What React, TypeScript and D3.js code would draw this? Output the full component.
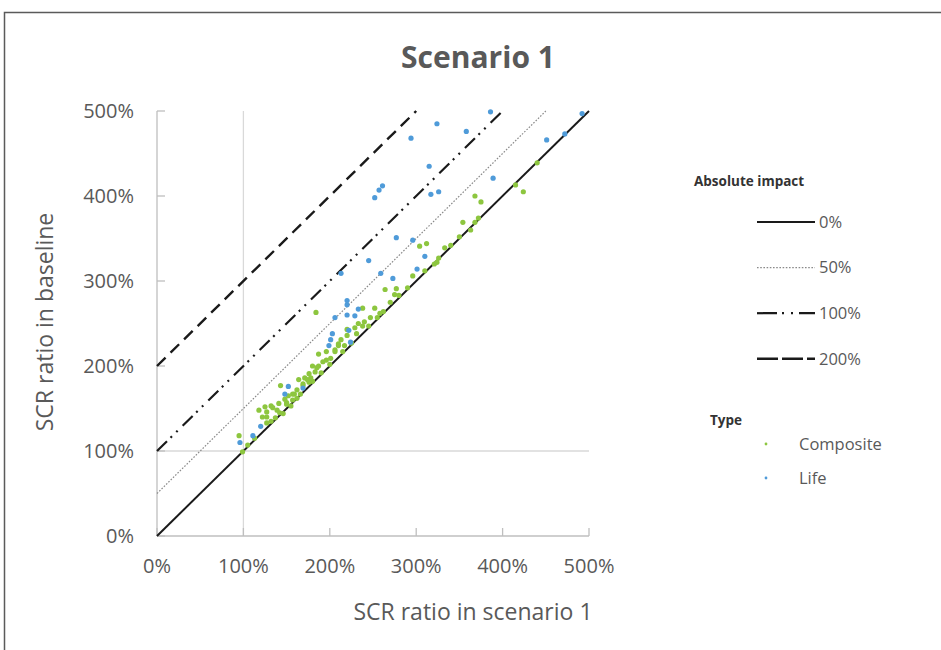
import React from "react";
import * as d3 from "d3";

// SCR ratio (%) in scenario 1 (x) vs baseline (y)
const compositeX = [95, 99, 118, 125, 132, 122, 127, 127, 132, 142, 150, 187, 196, 180, 187, 176, 183, 171, 178, 164, 143, 176, 169, 159, 166, 152, 157, 162, 150, 155, 127, 139, 146, 206, 210, 201, 196, 192, 185, 174, 169, 162, 157, 148, 141, 134, 184, 264, 277, 275, 270, 238, 252, 247, 240, 233, 229, 238, 220, 231, 220, 213, 210, 217, 206, 258, 304, 312, 333, 326, 324, 321, 440, 415, 424, 368, 375, 354, 372, 368, 363, 296, 105, 113, 137, 180, 190, 200, 215, 225, 245, 255, 262, 280, 290, 310, 340, 350];
const compositeY = [118, 99, 148, 152, 153, 140, 140, 133, 135, 145, 157, 214, 217, 200, 200, 191, 193, 186, 186, 184, 177, 181, 177, 167, 167, 165, 160, 162, 155, 153, 146, 148, 144, 219, 224, 209, 207, 205, 198, 184, 179, 172, 167, 161, 156, 151, 263, 290, 291, 284, 275, 268, 268, 257, 252, 250, 245, 247, 243, 238, 236, 231, 226, 224, 217, 262, 341, 344, 339, 327, 322, 320, 439, 413, 405, 400, 393, 369, 374, 369, 360, 306, 107, 115, 139, 182, 192, 202, 217, 227, 247, 257, 264, 283, 292, 312, 342, 352];

const lifeX = [96, 111, 120, 152, 148, 169, 199, 201, 203, 222, 224, 220, 220, 220, 229, 233, 206, 213, 245, 259, 273, 301, 277, 296, 310, 261, 257, 252, 317, 326, 315, 294, 324, 358, 386, 389, 451, 472, 492];
const lifeY = [110, 118, 129, 176, 167, 174, 224, 231, 238, 242, 228, 277, 272, 260, 259, 267, 257, 309, 324, 309, 303, 314, 351, 348, 329, 412, 407, 398, 402, 405, 435, 468, 485, 476, 499, 421, 466, 473, 497];

const tickValues = [0, 100, 200, 300, 400, 500];
const impactOffsets = [0, 50, 100, 200];
const impactLabels = ["0%", "50%", "100%", "200%"];
const typeLabels = ["Composite", "Life"];

const GREEN = "#8dc63f";
const BLUE = "#4f9bd9";
const FONT = "'Open Sans', sans-serif";

const lineStyles = [
  { stroke: "#1a1a1a", width: 2, dash: "none" },
  { stroke: "#8a8a8a", width: 1.2, dash: "1.6,1.6" },
  { stroke: "#1a1a1a", width: 2.2, dash: "14,5,2,6,2,7" },
  { stroke: "#1a1a1a", width: 2.4, dash: "12,7" },
];
const legendDash = ["none", "1.6,1.6", "20,5,2,7,2,6", "21,4"];

export default function App() {
  const x = d3.scaleLinear().domain([0, 500]).range([157, 589]);
  const y = d3.scaleLinear().domain([0, 500]).range([536, 111]);
  const line = d3
    .line<[number, number]>()
    .x((d) => x(d[0]))
    .y((d) => y(d[1]));

  const composite = compositeX.map((v, i) => [v, compositeY[i]]);
  const life = lifeX.map((v, i) => [v, lifeY[i]]);

  return (
    <div style={{ position: "absolute", left: 0, top: 0 }}>
      <svg width={941} height={650} style={{ display: "block", background: "#fff" }}>
        <rect x={0} y={0} width={941} height={650} fill="#fff" />
        {/* frame */}
        <path d="M4.5,650 L4.5,12.5 L941,12.5" fill="none" stroke="#5a5a5a" strokeWidth={1.5} />

        <text x={478} y={68} textAnchor="middle" fontFamily={FONT} fontWeight={700} fontSize={30} fill="#595959">
          Scenario 1
        </text>

        {/* reference lines at 100% */}
        <line x1={x(0)} x2={x(500)} y1={y(100)} y2={y(100)} stroke="#d9d9d9" strokeWidth={1.3} />
        <line x1={x(100)} x2={x(100)} y1={y(0)} y2={y(500)} stroke="#d9d9d9" strokeWidth={1.3} />

        {/* axes */}
        <line x1={x(0)} x2={x(0)} y1={y(0)} y2={y(500)} stroke="#bfbfbf" strokeWidth={1.3} />
        <line x1={x(0)} x2={x(500)} y1={y(0)} y2={y(0)} stroke="#bfbfbf" strokeWidth={1.3} />
        {tickValues.map((t) => (
          <g key={"t" + t}>
            <line x1={x(0)} x2={x(0) + 8} y1={y(t)} y2={y(t)} stroke="#bfbfbf" strokeWidth={1.3} />
            <line x1={x(t)} x2={x(t)} y1={y(0)} y2={y(0) - 8} stroke="#bfbfbf" strokeWidth={1.3} />
            <text x={134} y={y(t)} dy="0.35em" textAnchor="end" fontFamily={FONT} fontSize={20} fill="#595959">
              {t + "%"}
            </text>
            <text x={x(t)} y={573} textAnchor="middle" fontFamily={FONT} fontSize={20} fill="#595959">
              {t + "%"}
            </text>
          </g>
        ))}

        <text x={473} y={620} textAnchor="middle" fontFamily={FONT} fontSize={23} fill="#595959">
          SCR ratio in scenario 1
        </text>
        <text
          transform="translate(53,322) rotate(-90)"
          textAnchor="middle"
          fontFamily={FONT}
          fontSize={23}
          fill="#595959"
        >
          SCR ratio in baseline
        </text>

        {/* impact lines */}
        {impactOffsets.map((o, i) => (
          <path
            key={"l" + o}
            d={line([
              [0, o],
              [500 - o, 500],
            ]) as string}
            fill="none"
            stroke={lineStyles[i].stroke}
            strokeWidth={lineStyles[i].width}
            strokeDasharray={lineStyles[i].dash}
          />
        ))}

        {/* points */}
        {composite.map((d, i) => (
          <circle key={"c" + i} cx={x(d[0])} cy={y(d[1])} r={2.6} fill={GREEN} />
        ))}
        {life.map((d, i) => (
          <circle key={"b" + i} cx={x(d[0])} cy={y(d[1])} r={2.6} fill={BLUE} />
        ))}

        {/* legend */}
        <text x={694} y={186} fontFamily={FONT} fontWeight={700} fontSize={13.5} fill="#333">
          Absolute impact
        </text>
        {impactLabels.map((lab, i) => {
          const ly = 222 + i * 45.6;
          return (
            <g key={"lg" + i}>
              <line
                x1={757}
                x2={815}
                y1={ly}
                y2={ly}
                stroke={lineStyles[i].stroke}
                strokeWidth={lineStyles[i].width}
                strokeDasharray={legendDash[i]}
              />
              <text x={819} y={ly} dy="0.35em" fontFamily={FONT} fontSize={16.5} fill="#595959">
                {lab}
              </text>
            </g>
          );
        })}
        <text x={710} y={425} fontFamily={FONT} fontWeight={700} fontSize={13.5} fill="#333">
          Type
        </text>
        {typeLabels.map((lab, i) => {
          const ly = 444 + i * 34;
          return (
            <g key={"ty" + i}>
              <circle cx={766} cy={ly} r={1.4} fill={i === 0 ? GREEN : BLUE} />
              <text x={799} y={ly} dy="0.35em" fontFamily={FONT} fontSize={16.5} fill="#595959">
                {lab}
              </text>
            </g>
          );
        })}
      </svg>
    </div>
  );
}
